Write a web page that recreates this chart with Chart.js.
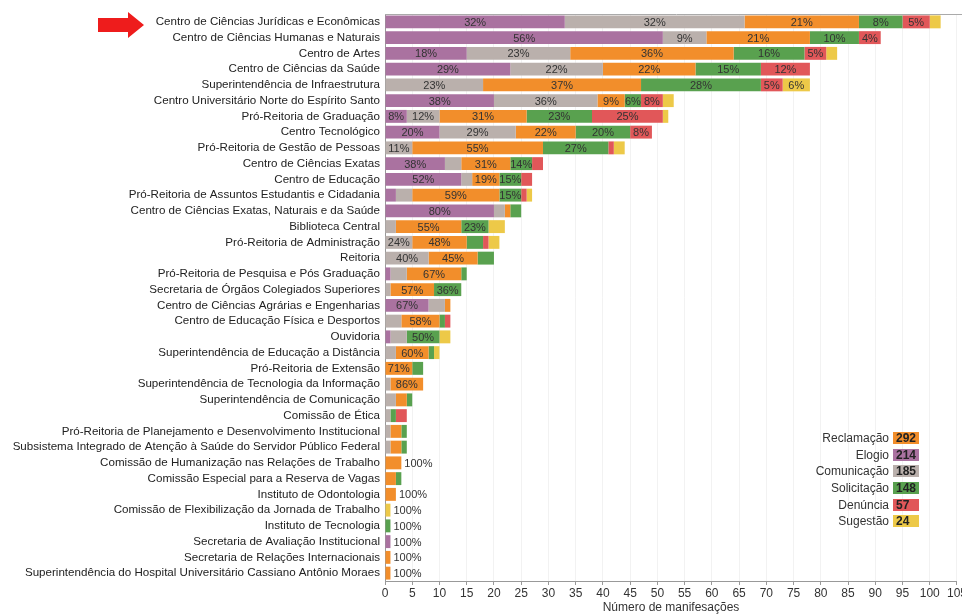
<!DOCTYPE html>
<html>
<head>
<meta charset="utf-8">
<script src="https://cdn.jsdelivr.net/npm/chart.js@4.4.1/dist/chart.umd.min.js"></script>
<style>
html, body { margin: 0; padding: 0; background: #fff; overflow: hidden; }
#wrap { position: relative; width: 968px; height: 616px; }
#legend {
    position: absolute; left: 760px; top: 430px; width: 159px;
    font-family: "Liberation Sans", Arial, sans-serif; font-size: 12px; color: #333;
}
#legend .row { display: flex; justify-content: flex-end; align-items: center; height: 16.6px; }
#legend .name { margin-right: 4px; }
#legend .box {
    width: 23px; height: 12px; line-height: 12px; padding-left: 3px;
    font-weight: bold; color: #222;
}
</style>
</head>
<body>
<div id="wrap">
    <canvas id="chart"></canvas>
    <div id="legend"></div>
</div>
<script>
// categories (top to bottom)
const categories = [
    'Centro de Ciências Jurídicas e Econômicas',
    'Centro de Ciências Humanas e Naturais',
    'Centro de Artes',
    'Centro de Ciências da Saúde',
    'Superintendência de Infraestrutura',
    'Centro Universitário Norte do Espírito Santo',
    'Pró-Reitoria de Graduação',
    'Centro Tecnológico',
    'Pró-Reitoria de Gestão de Pessoas',
    'Centro de Ciências Exatas',
    'Centro de Educação',
    'Pró-Reitoria de Assuntos Estudantis e Cidadania',
    'Centro de Ciências Exatas, Naturais e da Saúde',
    'Biblioteca Central',
    'Pró-Reitoria de Administração',
    'Reitoria',
    'Pró-Reitoria de Pesquisa e Pós Graduação',
    'Secretaria de Órgãos Colegiados Superiores',
    'Centro de Ciências Agrárias e Engenharias',
    'Centro de Educação Física e Desportos',
    'Ouvidoria',
    'Superintendência de Educação a Distância',
    'Pró-Reitoria de Extensão',
    'Superintendência de Tecnologia da Informação',
    'Superintendência de Comunicação',
    'Comissão de Ética',
    'Pró-Reitoria de Planejamento e Desenvolvimento Institucional',
    'Subsistema Integrado de Atenção à Saúde do Servidor Público Federal',
    'Comissão de Humanização nas Relações de Trabalho',
    'Comissão Especial para a Reserva de Vagas',
    'Instituto de Odontologia',
    'Comissão de Flexibilização da Jornada de Trabalho',
    'Instituto de Tecnologia',
    'Secretaria de Avaliação Institucional',
    'Secretaria de Relações Internacionais',
    'Superintendência do Hospital Universitário Cassiano Antônio Moraes'
];

// series values (number of manifestations)
const elogio      = [33,51,15,23,0,20,4,10,0,11,14,2,20,0,0,0,1,0,8,0,1,0,0,0,0,0,0,0,0,0,0,0,0,1,0,0];
const comunicacao = [33,8,19,17,18,19,6,14,5,3,2,3,2,2,5,8,3,1,3,3,3,2,0,1,2,1,1,1,0,0,0,0,0,0,0,0];
const reclamacao  = [21,19,30,17,29,5,16,11,24,9,5,16,1,12,10,9,10,8,1,7,0,6,5,6,2,0,2,2,3,2,2,0,0,0,1,1];
const solicitacao = [8,9,13,12,22,3,12,10,12,4,4,4,2,5,3,3,1,5,0,1,6,1,2,0,1,1,1,1,0,1,0,0,1,0,0,0];
const denuncia    = [5,4,4,9,4,4,13,4,1,2,2,1,0,0,1,0,0,0,0,1,0,0,0,0,0,2,0,0,0,0,0,0,0,0,0,0];
const sugestao    = [2,0,2,0,5,2,1,0,2,0,0,1,0,3,2,0,0,0,0,0,2,1,0,0,0,0,0,0,0,0,0,1,0,0,0,0];

const xMax = 105;
const xStep = 5;

const series = [
    { name: 'Elogio',      data: elogio,      color: '#AA72A0' },
    { name: 'Comunicação', data: comunicacao, color: '#BAB0AC' },
    { name: 'Reclamação',  data: reclamacao,  color: '#F28E2B' },
    { name: 'Solicitação', data: solicitacao, color: '#59A14F' },
    { name: 'Denúncia',    data: denuncia,    color: '#E15759' },
    { name: 'Sugestão',    data: sugestao,    color: '#EDC948' }
];

const rowTotals = categories.map((c, i) => series.reduce((s, d) => s + d.data[i], 0));

const FONT = '"Liberation Sans", Arial, sans-serif';
Chart.defaults.font.family = FONT;
Chart.defaults.font.size = 12;
Chart.defaults.color = '#333';

// percentage labels inside the segments
const pctLabels = {
    id: 'pctLabels',
    afterDatasetsDraw(chart) {
        const ctx = chart.ctx;
        ctx.save();
        ctx.font = '11px ' + FONT;
        ctx.fillStyle = '#333';
        ctx.textBaseline = 'middle';
        chart.data.datasets.forEach((ds, di) => {
            const meta = chart.getDatasetMeta(di);
            meta.data.forEach((bar, i) => {
                const v = ds.data[i];
                if (!v) return;
                const text = Math.round(v / rowTotals[i] * 100) + '%';
                const w = Math.abs(bar.x - bar.base);
                const tw = ctx.measureText(text).width;
                if (v === rowTotals[i]) {
                    ctx.textAlign = 'left';
                    ctx.fillText(text, bar.x + 3, bar.y + 1);
                } else if (tw <= w + 1) {
                    ctx.textAlign = 'center';
                    ctx.fillText(text, (bar.x + bar.base) / 2, bar.y + 1);
                }
            });
        });
        ctx.restore();
    },
    afterDraw(chart) {
        const ctx = chart.ctx;
        const area = chart.chartArea;
        ctx.save();
        // top frame line
        ctx.strokeStyle = '#aaa';
        ctx.lineWidth = 1;
        ctx.beginPath();
        ctx.moveTo(area.left, area.top + 0.5);
        ctx.lineTo(chart.width, area.top + 0.5);
        ctx.stroke();
        // red arrow pointing to the first category
        const yy = chart.scales.y.getPixelForValue(0) + 3;
        ctx.fillStyle = '#EE1C1C';
        ctx.beginPath();
        ctx.moveTo(98, yy - 7);
        ctx.lineTo(128, yy - 7);
        ctx.lineTo(128, yy - 13);
        ctx.lineTo(144, yy);
        ctx.lineTo(128, yy + 13);
        ctx.lineTo(128, yy + 7);
        ctx.lineTo(98, yy + 7);
        ctx.closePath();
        ctx.fill();
        ctx.restore();
    }
};

const ctx = document.getElementById('chart').getContext('2d');
const chart = new Chart(ctx, {
    type: 'bar',
    data: {
        labels: categories,
        datasets: series.map(s => ({
            label: s.name,
            data: s.data,
            backgroundColor: s.color,
            borderWidth: 0,
            barPercentage: 0.82,
            categoryPercentage: 1
        }))
    },
    options: {
        indexAxis: 'y',
        responsive: true,
        maintainAspectRatio: false,
        animation: false,
        layout: { padding: { top: 14, left: 10, right: 0, bottom: 0 } },
        scales: {
            x: {
                stacked: true,
                min: 0,
                max: xMax,
                afterFit: scale => { scale.height = 35; },
                ticks: { stepSize: xStep, padding: 1, maxRotation: 0, autoSkip: false, color: '#333' },
                grid: { color: 'rgba(0,0,0,0.05)', tickColor: '#999', tickLength: 4 },
                border: { display: true, color: '#999' },
                title: { display: true, text: 'Número de manifesações', color: '#333', padding: { top: 2, bottom: 1 } }
            },
            y: {
                stacked: true,
                afterFit: scale => { scale.width = 375; },
                ticks: { autoSkip: false, padding: 5, color: '#222', font: { size: 11.6 } },
                grid: { display: false, drawTicks: false },
                border: { display: true, color: '#999' }
            }
        },
        plugins: {
            legend: { display: false },
            tooltip: { enabled: false }
        }
    },
    plugins: [pctLabels]
});

// legend with totals, sorted by total
const legend = document.getElementById('legend');
series
    .map(s => ({ name: s.name, color: s.color, total: s.data.reduce((a, b) => a + b, 0) }))
    .sort((a, b) => b.total - a.total)
    .forEach(s => {
        const row = document.createElement('div');
        row.className = 'row';
        row.innerHTML = '<span class="name">' + s.name + '</span><span class="box" style="background:' +
            s.color + '">' + s.total + '</span>';
        legend.appendChild(row);
    });
</script>
</body>
</html>
